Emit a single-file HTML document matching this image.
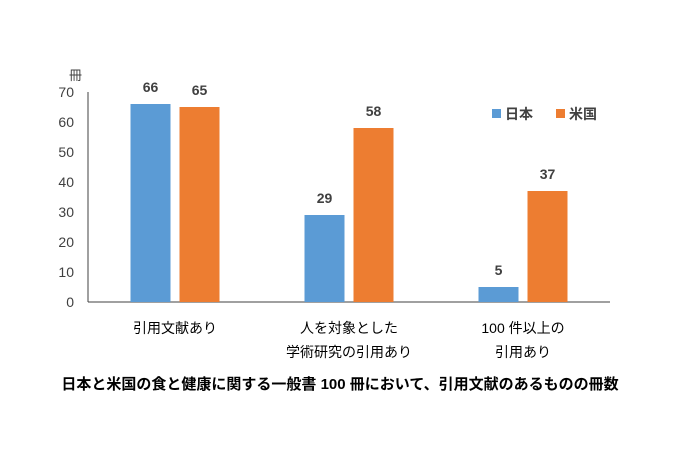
<!DOCTYPE html>
<html><head><meta charset="utf-8"><style>
body{margin:0;background:#fff;}
svg text{font-family:"Liberation Sans","Noto Sans CJK JP",sans-serif;}
</style></head><body>
<svg width="675" height="450" id="chart">
<text x="69" y="80" font-size="13" fill="#404040">冊</text>
<g id="yticks"></g>
<line x1="88" y1="302" x2="610" y2="302" stroke="#404040" stroke-width="1"/>
<line x1="88" y1="92" x2="88" y2="302" stroke="#404040" stroke-width="1"/>
<g id="bars"></g>
<g>
<rect x="492" y="109" width="9" height="9" fill="#5b9bd5"/>
<text x="505" y="119" font-size="14" font-weight="bold" fill="#404040">日本</text>
<rect x="556" y="109" width="9" height="9" fill="#ed7d31"/>
<text x="569" y="119" font-size="14" font-weight="bold" fill="#404040">米国</text>
</g>
<g font-size="14" fill="#000" text-anchor="middle">
<text x="175" y="333">引用文献あり</text>
<text x="349" y="333">人を対象とした</text>
<text x="349" y="357">学術研究の引用あり</text>
<text x="523" y="333">100 件以上の</text>
<text x="523" y="357">引用あり</text>
</g>
<text x="340" y="389" font-size="15" font-weight="bold" text-anchor="middle" fill="#000">日本と米国の食と健康に関する一般書 100 冊において、引用文献のあるものの冊数</text>
</svg>
<script>
const categories=["引用文献あり","人を対象とした学術研究の引用あり","100 件以上の引用あり"];
const japan=[66,29,5];
const usa=[65,58,37];
const yTicks=[0,10,20,30,40,50,60,70];
const ns="http://www.w3.org/2000/svg";
const x0=88,x1=610,yb=302,yt=92,ymax=70;
const yS=v=>yb-(v/ymax)*(yb-yt);
const cw=(x1-x0)/categories.length;
const yg=document.getElementById('yticks');
yTicks.forEach(t=>{
 const e=document.createElementNS(ns,'text');
 
 
 e.setAttribute('x',74);e.setAttribute('y',yS(t)+5);
 e.setAttribute('text-anchor','end');e.setAttribute('font-size','14');e.setAttribute('fill','#404040');
 e.textContent=t;yg.appendChild(e);
});
const bg=document.getElementById('bars');
const bw=40,gap=9;
[[japan,'#5b9bd5',-1,'japan'],[usa,'#ed7d31',1,'usa']].forEach(([arr,col,side,nm])=>{
 arr.forEach((v,i)=>{
  const c=x0+cw*(i+0.5);
  const x=side<0?c-gap/2-bw:c+gap/2;
  const r=document.createElementNS(ns,'rect');
  
  
  r.setAttribute('x',x);r.setAttribute('y',yS(v));r.setAttribute('width',bw);r.setAttribute('height',yb-yS(v));r.setAttribute('fill',col);
  bg.appendChild(r);
  const t=document.createElementNS(ns,'text');
  
  
  t.setAttribute('x',x+bw/2);t.setAttribute('y',yS(v)-12);t.setAttribute('text-anchor','middle');
  t.setAttribute('font-size','14');t.setAttribute('font-weight','bold');t.setAttribute('fill','#404040');
  t.textContent=v;bg.appendChild(t);
 });
});
</script>
</body></html>
